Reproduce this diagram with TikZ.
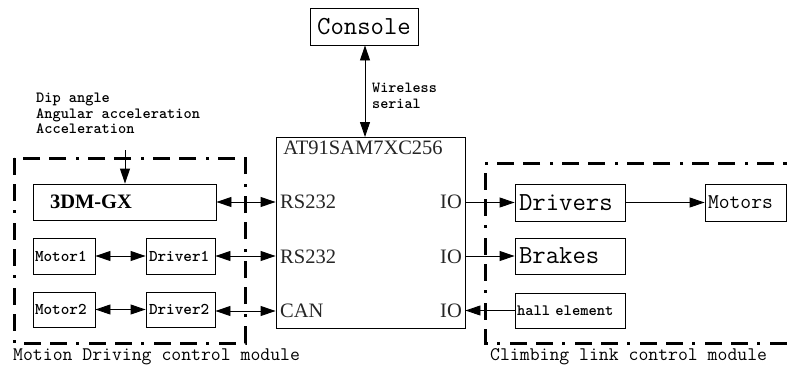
\documentclass[tikz,border=0pt]{standalone}
\usepackage{fontspec}
\newfontfamily\serifx{Liberation Serif}
\usetikzlibrary{arrows.meta}
\begin{document}
\begin{tikzpicture}[x=1pt,y=-1pt,
  box/.style={draw,line width=0.9pt,inner ysep=0pt,align=left},
  modframe/.style={line width=3pt,dash pattern=on 17pt off 9pt on 17pt off 9pt on 3pt off 10pt},
  conn/.style={line width=0.9pt},
  tip/.style={-{Triangle[length=15pt,width=10pt]}},
  tips/.style={{Triangle[length=15pt,width=10pt]}-{Triangle[length=15pt,width=10pt]}},
  monoA/.style={font=\ttfamily\fontsize{26}{28}\selectfont},
  monoB/.style={font=\ttfamily\bfseries\fontsize{16.4}{18}\selectfont},
  serifA/.style={font=\serifx\fontsize{20.5}{22}\selectfont,text=black!85,inner sep=0pt}
]
\useasboundingbox (0,0) rectangle (787,370);
\fill[white] (0,0) rectangle (787,370);

% module frames
\draw[modframe] (14,158) rectangle (245,343);
\draw[modframe] (800,163) -- (485,163) -- (485,343) -- (800,343);

% console and MCU
\node[box,monoA,minimum height=37pt,text width=102pt,inner xsep=3pt,align=center] (console) at (364,26.5) {Console};
\node[draw,line width=0.9pt,minimum width=189pt,minimum height=191pt,inner sep=0pt] (mcu) at (370.5,232.5) {};
\node[serifA,anchor=north] (mcutitle) at (363,141) {AT91SAM7XC256};
\node[serifA,anchor=west] (rs1) at (280,202) {RS232};
\node[serifA,anchor=west] (rs2) at (280,257) {RS232};
\node[serifA,anchor=west] (can) at (280,311) {CAN};
\node[serifA,anchor=east] (io1) at (462,202) {IO};
\node[serifA,anchor=east] (io2) at (462,257) {IO};
\node[serifA,anchor=east] (io3) at (462,311) {IO};

\draw[conn,tips] (console.south -| 365,0) -- (365,137);
\node[anchor=west,align=left,inner sep=0pt,font=\ttfamily\bfseries\fontsize{15.4}{16}\selectfont] (wl) at (372,96) {Wireless\\serial};

% left module
\node[anchor=north west,align=left,inner sep=0pt,font=\ttfamily\bfseries\fontsize{15.6}{15.5}\selectfont] (sens) at (36,93) {Dip angle\\Angular acceleration\\Acceleration};
\coordinate (senstop) at (125,150);
\node[box,font=\serifx\bfseries\fontsize{20.5}{22}\selectfont,minimum height=36pt,text width=149pt,inner xsep=17pt] (gx) at (124.5,202) {3DM-GX};
\node[box,monoB,minimum height=36pt,text width=58pt,inner xsep=2pt] (m1) at (64,256) {Motor1};
\node[box,monoB,minimum height=36pt,text width=63pt,inner xsep=3pt] (d1) at (180.5,256) {Driver1};
\node[box,monoB,minimum height=35pt,text width=58pt,inner xsep=2pt] (m2) at (64,309.5) {Motor2};
\node[box,monoB,minimum height=35pt,text width=63pt,inner xsep=3pt] (d2) at (180.5,309.5) {Driver2};

\draw[conn,tip] (senstop) -- (senstop |- gx.north);
\draw[conn,tips] (gx.east) -- (gx.east -| mcu.west);
\draw[conn,tips] (m1.east) -- (d1.west);
\draw[conn,tips] (d1.east) -- (d1.east -| mcu.west);
\draw[conn,tips] (m2.east) -- (d2.west);
\draw[conn,tips] (d2.east |- can.west) -- (can.west -| mcu.west);

% right module
\node[box,monoA,minimum height=37pt,text width=102pt,inner xsep=4pt] (drv) at (570,202.5) {Drivers};
\node[box,font=\ttfamily\fontsize{21}{22}\selectfont,minimum height=37pt,text width=75pt,inner xsep=3pt] (mot) at (745.5,202.5) {Motors};
\node[box,monoA,minimum height=36pt,text width=102pt,inner xsep=4pt] (brk) at (570,256) {Brakes};
\node[box,font=\ttfamily\bfseries\fontsize{15.8}{16}\selectfont,minimum height=35pt,text width=106pt,inner xsep=2pt] (hall) at (570,310.5) {hall element};

\draw[conn,tip] (mcu.east |- drv.west) -- (drv.west);
\draw[conn,tip] (drv.east) -- (mot.west);
\draw[conn,tip] (mcu.east |- brk.west) -- (brk.west);
\draw[conn,tip] (hall.west) -- (hall.west -| mcu.east);

% module labels
\node[anchor=west,inner sep=0pt,font=\ttfamily\fontsize{19.2}{20}\selectfont] (lm1) at (13,357) {Motion Driving control module};
\node[anchor=west,inner sep=0pt,font=\ttfamily\fontsize{19.2}{20}\selectfont] (lm2) at (490,357) {Climbing link control module};
\end{tikzpicture}
\end{document}
